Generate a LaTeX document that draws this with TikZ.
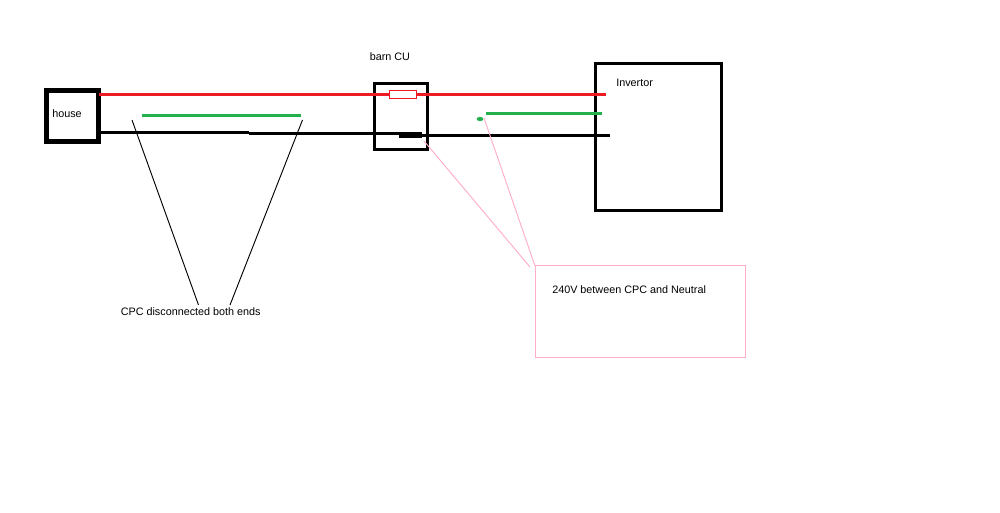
\documentclass[tikz,border=0pt]{standalone}
\usepackage{fontspec}
\usetikzlibrary{shapes.geometric}
\setmainfont{Liberation Sans}
\definecolor{wred}{RGB}{237,28,36}
\definecolor{wgreen}{RGB}{34,177,76}
\definecolor{wpink}{RGB}{255,174,201}
\tikzset{
  px/.style={x=0.75pt,y=-0.75pt},
  lbl/.style={inner sep=0pt,anchor=west,font=\fontsize{8.1pt}{9pt}\selectfont},
  wire/.style={line width=2.25pt},
  boxthick/.style={draw=black,line width=2.25pt,inner sep=0pt},
  thinline/.style={draw=black,line width=0.7pt},
  pinkline/.style={draw=wpink,line width=0.7pt},
}
\begin{document}
\begin{tikzpicture}[px]
\useasboundingbox[fill=white] (0,0) rectangle (1000,513);
% boxes
\node[draw=black,line width=3.75pt,inner sep=0pt,minimum width=39pt,minimum height=38.25pt] (house) at (72.5,116) {};
\node[boxthick,minimum width=39.75pt,minimum height=49.5pt] (barn) at (401,116.5) {};
\node[boxthick,minimum width=94.5pt,minimum height=110.25pt] (inv) at (658.5,137) {};
\node[draw=wpink,line width=0.75pt,inner sep=0pt,minimum width=157.5pt,minimum height=69pt] (note) at (640.5,311.5) {};
% wire ends
\coordinate (r0) at (99,94.3); \coordinate (r1) at (606,94.3);
\coordinate (g0) at (142,115.3); \coordinate (g1) at (301,115.3);
\coordinate (g2) at (486,113.5); \coordinate (g3) at (602,113.5);
\coordinate (k0) at (100,132.3); \coordinate (k1) at (249,132.3);
\coordinate (k2) at (249,133.5); \coordinate (k3) at (400,133.5);
\coordinate (k4) at (400,135.3); \coordinate (k5) at (610,135.3);
\coordinate (s0) at (399,135); \coordinate (s1) at (422,135);
% wires
\draw[wire,draw=wred] (r0) -- (r1);
\draw[wire,draw=wgreen] (g0) -- (g1);
\draw[wire,draw=wgreen] (g2) -- (g3);
\draw[wire] (k0) -- (k1);
\draw[wire] (k2) -- (k3);
\draw[wire] (k4) -- (k5);
\draw[line width=4.5pt] (s0) -- (s1);
% fuse
\node[draw=wred,fill=white,line width=0.75pt,inner sep=0pt,minimum width=20.25pt,minimum height=6.2pt] (fuse) at (403,94.5) {};
% earth dot
\node[fill=wgreen,ellipse,inner sep=0pt,minimum width=5pt,minimum height=3.2pt] (dot) at (480,119) {};
% labels
\node[lbl] (houseL) at (52,113.5) {house};
\node[lbl] (barnL) at (369.5,56.5) {barn CU};
\node[lbl] (invL) at (616,82.5) {Invertor};
\node[lbl] (cpc) at (120.5,312) {CPC disconnected both ends};
\node[lbl] (v240) at (552,289.5) {240V between CPC and Neutral};
% leaders
\coordinate (a1) at (132,120); \coordinate (a2) at (198.5,305);
\coordinate (b1) at (302.5,120); \coordinate (b2) at (230,305);
\coordinate (c1) at (424,141); \coordinate (c2) at (530,267);
\coordinate (d1) at (484,118); \coordinate (d2) at (535,266);
\draw[thinline] (a1) -- (a2);
\draw[thinline] (b1) -- (b2);
\draw[pinkline] (c1) -- (c2);
\draw[pinkline] (d1) -- (d2);
\end{tikzpicture}
\end{document}
